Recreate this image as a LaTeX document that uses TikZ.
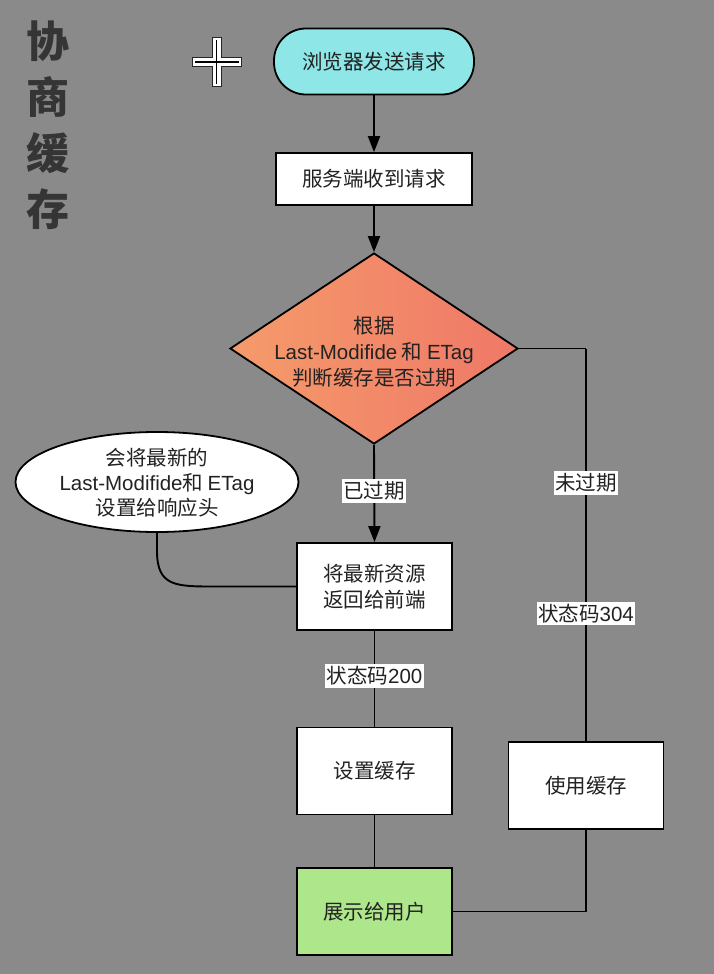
\documentclass[tikz,border=0pt]{standalone}
\usepackage{fontspec}
\setmainfont{Noto Sans CJK SC}
\newfontfamily\lat{Liberation Sans}
\usetikzlibrary{shapes.geometric,arrows.meta,calc}
\definecolor{bg}{HTML}{8A8A8A}
\definecolor{txt}{HTML}{222222}
\definecolor{startc}{HTML}{8EE6E6}
\definecolor{showc}{HTML}{AEE68B}
\definecolor{dleft}{HTML}{F59B6A}
\definecolor{dright}{HTML}{EF7868}
\definecolor{titlec}{HTML}{353535}
\newcommand\myfs{\fontsize{20.5pt}{25.5pt}\selectfont}
\begin{document}
\begin{tikzpicture}[x=1pt,y=-1pt,
  box/.style={draw=black, line width=1.8pt, fill=white, minimum width=155pt,
    minimum height=87pt, inner sep=0pt, align=center, font=\myfs, text=txt},
  lab/.style={fill=white, inner xsep=1.5pt, inner ysep=2.5pt, font=\myfs, text=txt},
  ln/.style={line width=1.9pt, draw=black},
  arr/.style={ln, -{Triangle[length=16pt,width=12pt]}},
  txtnode/.style={align=center, font=\myfs, text=txt, inner sep=0pt}]
\useasboundingbox[fill=bg] (0,0) rectangle (714,974);

% title
\node[align=center, text=titlec, font=\fontsize{43pt}{56pt}\selectfont\bfseries, inner sep=0pt]
  (title) at (48,125) {协\\商\\缓\\存};

% plus sign
\draw[fill=white, draw=black!85, line width=0.8pt]
  (212,37.5) -- (221,37.5) -- (221,57.5) -- (241.5,57.5) -- (241.5,66.5) -- (221,66.5)
  -- (221,86.5) -- (212,86.5) -- (212,66.5) -- (192,66.5) -- (192,57.5) -- (212,57.5) -- cycle;
\draw[black, line width=1.3pt] (195,62) -- (238.5,62) (216.5,40.5) -- (216.5,83.5);

% nodes
\node[box, fill=startc, minimum width=200pt, minimum height=66pt, rounded corners=32pt]
  (start) at (374,61.5) {浏览器发送请求};
\node[box, minimum width=196pt, minimum height=52pt] (recv) at (374,179) {服务端收到请求};
\node[draw=black, line width=1.8pt, shape=diamond, left color=dleft, right color=dright,
  minimum width=288pt, minimum height=191pt, inner sep=0pt] (d) at (374,348.5) {};
\node[txtnode, font=\fontsize{20.5pt}{26pt}\selectfont] (dt) at ($(d.center)+(0,3)$)
  {根据\\{\lat Last-Modifide} 和 {\lat ETag}\\判断缓存是否过期};
\node[box] (ret) at (374.5,586.5) {将最新资源\\返回给前端};
\node[box] (set) at (374.5,771) {设置缓存};
\node[box, fill=showc] (show) at (374.5,911.5) {展示给用户};
\node[box] (use) at (586,785.5) {使用缓存};
\node[draw=black, line width=1.8pt, fill=white, shape=ellipse, minimum width=283pt,
  minimum height=100pt, inner sep=0pt] (ell) at (157,482) {};
\node[txtnode, font=\fontsize{20.5pt}{25pt}\selectfont] (et) at ($(ell.center)+(0,1)$)
  {会将最新的\\{\lat Last-Modifide}和 {\lat ETag}\\设置给响应头};

% connectors
\draw[arr] (start) -- (recv);
\draw[arr] (recv) -- (d.north);
\draw[arr] (d.south) -- (ret.north) node[lab, pos=0.47] (l1) {已过期};
\coordinate (corner) at (d.east -| use.north);
\draw[ln] (d.east) -- (corner);
\draw[ln] (corner) -- (use.north)
  node[lab, pos=0.343] (l2) {未过期}
  node[lab, pos=0.675] (l3) {状态码{\lat 304}};
\draw[ln] (ret.south) -- (set.north) node[lab, pos=0.47] (l4) {状态码{\lat 200}};
\draw[ln] (set.south) -- (show.north);
\draw[ln] (use.south) |- (show.east);
\draw[ln] (ell.south) -- ++(0,18) .. controls +(0,36) and +(-40,0) .. ($(ret.west)+(-80,0)$) -- (ret.west);
\end{tikzpicture}
\end{document}
